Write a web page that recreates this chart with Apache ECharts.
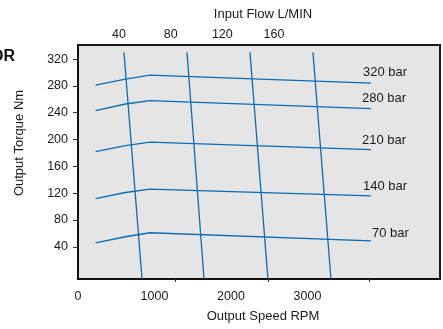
<!DOCTYPE html>
<html>
<head>
<meta charset="utf-8">
<script src="https://cdn.jsdelivr.net/npm/echarts@6/dist/echarts.min.js"></script>
<style>
  html, body { margin: 0; padding: 0; background: #ffffff; }
  #chart { width: 443px; height: 329px; }
</style>
</head>
<body>
<div id="chart"></div>
<script>
// output speed (rpm) points shared by every pressure curve
const speedRpm = [230, 620, 940, 3830]
// output torque (Nm) per pressure curve
const pressureNames = ['320 bar', '280 bar', '210 bar', '140 bar', '70 bar']
const torque320 = [281, 290, 296, 284]
const torque280 = [243, 253, 258, 246]
const torque210 = [182, 191, 196, 185]
const torque140 = [112, 121, 126, 116]
const torque70 = [46, 55, 61, 49]
// input flow lines: speed at top and bottom of the plot
const flowTopRpm = [601, 1425, 2248, 3071]
const flowBottomRpm = [837, 1647, 2483, 3307]
const flowTopTorque = 330
// tick labels
const speedLabels = [0, 1000, 2000, 3000]
const speedTicks = [1268, 2483, 3804]
const flowLabels = [40, 80, 120, 160]
const torqueLabels = [40, 80, 120, 160, 200, 240, 280, 320]

const blue = '#0a6cb9'
const font = 'Liberation Sans, Arial, Helvetica, sans-serif'
const labelOffsets = [[-8, -11], [-9, -10], [-9, -9], [-8, -9], [1, -7]]

const torqueSets = [torque320, torque280, torque210, torque140, torque70]

const chart = echarts.init(document.getElementById('chart'))

const pressureSeries = torqueSets.map((vals, k) => ({
  type: 'line',
  xAxisIndex: 0,
  symbol: 'circle',
  symbolSize: 0,
  lineStyle: { color: blue, width: 1.3 },
  itemStyle: { color: blue },
  silent: true,
  data: vals.map((v, i) => {
    const item = { value: [speedRpm[i], v] }
    if (i === vals.length - 1) {
      item.label = {
        show: true,
        formatter: pressureNames[k],
        position: labelOffsets[k],
        align: 'left',
        verticalAlign: 'middle',
        color: '#1a1a1a',
        fontSize: 13,
        fontFamily: font
      }
    }
    return item
  })
}))

const flowSeries = flowTopRpm.map((top, i) => ({
  type: 'line',
  xAxisIndex: 0,
  showSymbol: false,
  lineStyle: { color: blue, width: 1.3 },
  silent: true,
  data: [[top, flowTopTorque], [flowBottomRpm[i], -8]]
}))

const option = {
  animation: false,
  textStyle: { fontFamily: font },
  grid: {
    left: 78, right: 3, top: 45, bottom: 50,
    show: true,
    backgroundColor: '#e5e5e5',
    borderColor: '#1a1a1a',
    borderWidth: 2
  },
  xAxis: [
    {
      type: 'value',
      position: 'bottom',
      min: 0,
      max: 4732,
      axisLine: { show: true, onZero: false, lineStyle: { color: '#111', width: 2 } },
      axisTick: { show: true, customValues: speedTicks, length: 3, lineStyle: { color: '#333' } },
      axisLabel: {
        customValues: speedLabels,
        formatter: v => String(v),
        margin: 11,
        color: '#1a1a1a',
        fontSize: 12.5
      },
      splitLine: { show: false },
      name: 'Output Speed RPM',
      nameLocation: 'middle',
      nameGap: 31,
      nameTextStyle: { color: '#1a1a1a', fontSize: 13, padding: [0, 0, 0, 8] }
    },
    {
      type: 'value',
      position: 'top',
      min: 8.3,
      max: 288.5,
      axisLine: { show: false, onZero: false },
      axisTick: { show: false },
      axisLabel: { customValues: flowLabels, margin: 4, color: '#1a1a1a', fontSize: 12.5 },
      splitLine: { show: false },
      name: 'Input Flow L/MIN',
      nameLocation: 'middle',
      nameGap: 24,
      nameTextStyle: { color: '#1a1a1a', fontSize: 13, padding: [0, 0, 0, 8] }
    }
  ],
  yAxis: {
    type: 'value',
    min: -8,
    max: 341,
    axisLine: { show: true, onZero: false, lineStyle: { color: '#111', width: 2 } },
    axisTick: { show: true, customValues: torqueLabels, length: 5, lineStyle: { color: '#333' } },
    axisLabel: { customValues: torqueLabels, margin: 10, color: '#1a1a1a', fontSize: 12.5 },
    splitLine: { show: false }
  },
  graphic: [
    {
      type: 'text',
      x: -9,
      y: 49,
      style: { text: 'OR', fill: '#111', font: 'bold 16px ' + font },
      silent: true
    },
    {
      type: 'text',
      x: 19,
      y: 143,
      rotation: Math.PI / 2,
      style: {
        text: 'Output Torque Nm',
        fill: '#1a1a1a',
        font: '13px ' + font,
        align: 'center',
        verticalAlign: 'middle'
      },
      silent: true
    }
  ],
  series: pressureSeries.concat(flowSeries)
}

chart.setOption(option)
</script>
</body>
</html>
